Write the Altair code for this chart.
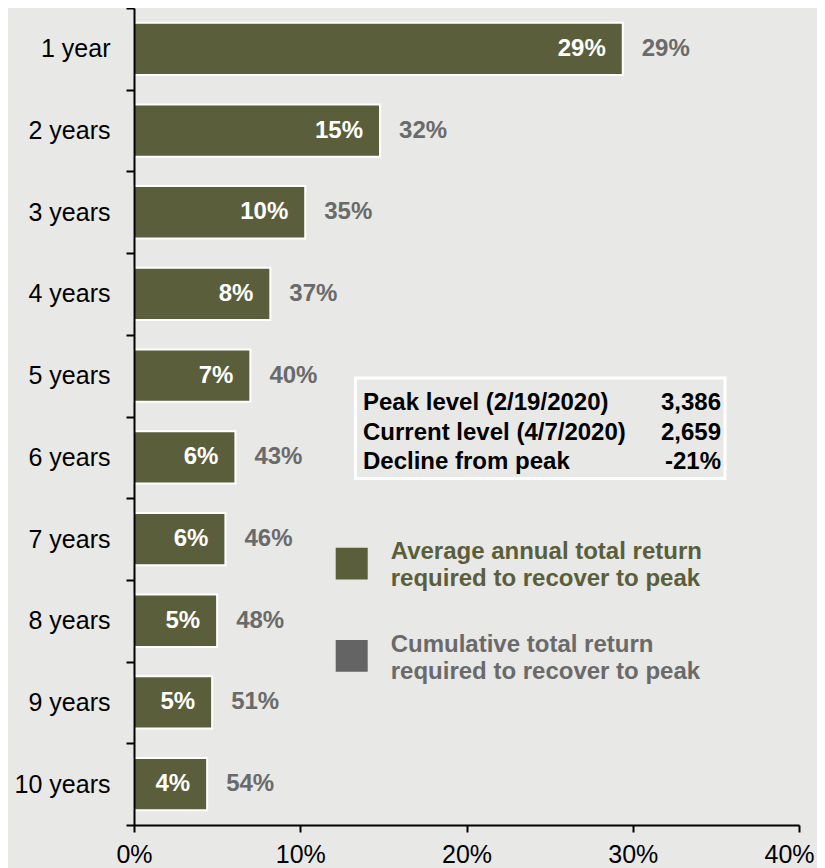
import altair as alt
import pandas as pd

# ---------------- data ----------------
periods = ["1 year", "2 years", "3 years", "4 years", "5 years",
           "6 years", "7 years", "8 years", "9 years", "10 years"]
avg_return = [0.294, 0.148, 0.103, 0.082, 0.070, 0.061, 0.055, 0.050, 0.047, 0.044]
avg_labels = ["29%", "15%", "10%", "8%", "7%", "6%", "6%", "5%", "5%", "4%"]
cum_labels = ["29%", "32%", "35%", "37%", "40%", "43%", "46%", "48%", "51%", "54%"]
x_ticks = [0, 0.1, 0.2, 0.3, 0.4]

box_labels = ["Peak level (2/19/2020)", "Current level (4/7/2020)", "Decline from peak"]
box_values = ["3,386", "2,659", "-21%"]
legend_avg = ["Average annual total return", "required to recover to peak"]
legend_cum = ["Cumulative total return", "required to recover to peak"]

# ---------------- style ----------------
FONT = "Liberation Sans"
BG = "#e8e8e6"
GREEN = "#5a5e3b"
GRAY_TXT = "#6a6a6a"
GRAY_SQ = "#646464"

df = pd.DataFrame({"period": periods, "avg": avg_return,
                   "avg_label": avg_labels, "cum_label": cum_labels})

y_enc = alt.Y(
    "period:N", sort=periods, title=None,
    scale=alt.Scale(paddingInner=0, paddingOuter=0),
    axis=alt.Axis(tickBand="extent", labelFontSize=25, labelColor="black",
                  labelFont=FONT, labelPadding=16, tickSize=8, tickWidth=2,
                  tickColor="black", domainWidth=2, domainColor="black",
                  zindex=1),
)
x_enc = alt.X(
    "avg:Q", title=None,
    scale=alt.Scale(domain=[0, 0.4], nice=False, zero=True),
    axis=alt.Axis(values=x_ticks, format=".0%", grid=False, labelFontSize=25,
                  labelColor="black", labelFont=FONT, labelPadding=10,
                  labelFlush=False, labelOverlap=False,
                  labelOffset={"condition": {"test": "datum.value >= 0.4", "value": -10},
                               "value": 0},
                  tickSize=7, tickWidth=2, tickColor="black", domainWidth=2,
                  domainColor="black", zindex=1),
)

base = alt.Chart(df).encode(y=y_enc, x=x_enc)
bars = base.mark_bar(color=GREEN, stroke="white", strokeWidth=2,
                     height=alt.RelativeBandSize(band=0.64))
inner = base.mark_text(align="right", baseline="middle", dx=-17, color="white",
                       fontWeight="bold", fontSize=24, font=FONT).encode(text="avg_label:N")
outer = base.mark_text(align="left", baseline="middle", dx=19, color=GRAY_TXT,
                       fontWeight="bold", fontSize=24, font=FONT).encode(text="cum_label:N")

one = pd.DataFrame({"k": [0]})
layers = [bars, inner, outer]

# info box
layers.append(alt.Chart(one).mark_rect(fill=BG, stroke="white", strokeWidth=3).encode(
    x=alt.value(221.5), x2=alt.value(591), y=alt.value(370), y2=alt.value(470.5)))
for i, (lab, val) in enumerate(zip(box_labels, box_values)):
    yy = 395 + 29.5 * i
    layers.append(alt.Chart(one).mark_text(
        align="left", baseline="middle", fontWeight="bold", fontSize=24,
        font=FONT, color="black").encode(
        x=alt.value(229), y=alt.value(yy), text=alt.value(lab)))
    layers.append(alt.Chart(one).mark_text(
        align="right", baseline="middle", fontWeight="bold", fontSize=24,
        font=FONT, color="black").encode(
        x=alt.value(587), y=alt.value(yy), text=alt.value(val)))

# legend
for lines, col, sq, y0 in [(legend_avg, GREEN, GREEN, 539.7),
                           (legend_cum, GRAY_TXT, GRAY_SQ, 632)]:
    layers.append(alt.Chart(one).mark_rect(fill=sq).encode(
        x=alt.value(201.7), x2=alt.value(233.7), y=alt.value(y0), y2=alt.value(y0 + 31.7)))
    for j, ln in enumerate(lines):
        layers.append(alt.Chart(one).mark_text(
            align="left", baseline="middle", fontWeight="bold", fontSize=24,
            font=FONT, color=col).encode(
            x=alt.value(256.7), y=alt.value(y0 + 4.5 + 27 * j), text=alt.value(ln)))

chart = alt.layer(*layers).properties(
    width=665, height=817,
    autosize=alt.AutoSizeParams(type="none"),
    padding={"left": 126, "top": 0, "right": 18, "bottom": 43},
    background=BG,
).configure_view(stroke=None)

chart.save("out.html", embed_options={"renderer": "svg", "actions": False})
